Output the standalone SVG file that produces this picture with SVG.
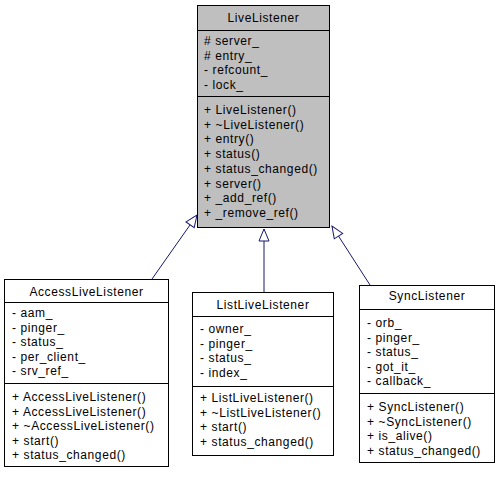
<svg xmlns="http://www.w3.org/2000/svg" width="499" height="477" viewBox="0 0 499 477">
<style>
.box{fill:#ffffff;stroke:#000000;stroke-width:1}
.base{fill:#bfbfbf;stroke:#000000;stroke-width:1}
.sep{stroke:#000000;stroke-width:1}
text{font-family:"Liberation Sans",Arial,Helvetica,sans-serif;font-size:12px;letter-spacing:0.6px;fill:#000000}
.t{text-anchor:middle}
.edge{fill:none;stroke:#191970;stroke-width:1;marker-end:url(#inh)}
</style>
<defs>
<marker id="inh" viewBox="0 0 12 10" refX="12" refY="5" markerWidth="12" markerHeight="10" markerUnits="userSpaceOnUse" orient="auto" overflow="visible">
<path d="M0,0 L12,5 L0,10 Z" fill="#ffffff" stroke="#191970" stroke-width="1"/>
</marker>
</defs>
<g id="connectors">
<path class="edge" d="M152,279 L197,215"/>
<path class="edge" d="M264,292 L264,229"/>
<path class="edge" d="M370,285 L332,226"/>
</g>
<g id="LiveListener">
<rect class="base" x="197.5" y="5.5" width="132" height="222"/>
<line class="sep" x1="197.5" y1="30.5" x2="329.5" y2="30.5"/>
<line class="sep" x1="197.5" y1="96.5" x2="329.5" y2="96.5"/>
<text class="t" x="263.5" y="22">LiveListener</text>
<text x="204" y="45"># server_</text>
<text x="204" y="59.5"># entry_</text>
<text x="204" y="74">- refcount_</text>
<text x="204" y="88.5">- lock_</text>
<text x="204" y="114">+ LiveListener()</text>
<text x="204" y="128.7">+ ~LiveListener()</text>
<text x="204" y="143.4">+ entry()</text>
<text x="204" y="158.1">+ status()</text>
<text x="204" y="172.8">+ status_changed()</text>
<text x="204" y="187.5">+ server()</text>
<text x="204" y="202.2">+ _add_ref()</text>
<text x="204" y="216.9">+ _remove_ref()</text>
</g>
<g id="AccessLiveListener">
<rect class="box" x="4.5" y="279.5" width="164" height="187"/>
<line class="sep" x1="4.5" y1="302.5" x2="168.5" y2="302.5"/>
<line class="sep" x1="4.5" y1="383.5" x2="168.5" y2="383.5"/>
<text class="t" x="86.5" y="296">AccessLiveListener</text>
<text x="12" y="317.3">- aam_</text>
<text x="12" y="331.8">- pinger_</text>
<text x="12" y="346.3">- status_</text>
<text x="12" y="360.8">- per_client_</text>
<text x="12" y="375.3">- srv_ref_</text>
<text x="12" y="401.3">+ AccessLiveListener()</text>
<text x="12" y="415.8">+ AccessLiveListener()</text>
<text x="12" y="430.3">+ ~AccessLiveListener()</text>
<text x="12" y="444.8">+ start()</text>
<text x="12" y="459.3">+ status_changed()</text>
</g>
<g id="ListLiveListener">
<rect class="box" x="192.5" y="292.5" width="141" height="163"/>
<line class="sep" x1="192.5" y1="316.5" x2="333.5" y2="316.5"/>
<line class="sep" x1="192.5" y1="386.5" x2="333.5" y2="386.5"/>
<text class="t" x="263" y="309">ListLiveListener</text>
<text x="200" y="333.3">- owner_</text>
<text x="200" y="347.8">- pinger_</text>
<text x="200" y="362.3">- status_</text>
<text x="200" y="376.8">- index_</text>
<text x="200" y="402.3">+ ListLiveListener()</text>
<text x="200" y="416.8">+ ~ListLiveListener()</text>
<text x="200" y="431.3">+ start()</text>
<text x="200" y="445.8">+ status_changed()</text>
</g>
<g id="SyncListener">
<rect class="box" x="359.5" y="285.5" width="135" height="177"/>
<line class="sep" x1="359.5" y1="309.5" x2="494.5" y2="309.5"/>
<line class="sep" x1="359.5" y1="393.5" x2="494.5" y2="393.5"/>
<text class="t" x="427" y="299.5">SyncListener</text>
<text x="367" y="327.3">- orb_</text>
<text x="367" y="341.8">- pinger_</text>
<text x="367" y="356.3">- status_</text>
<text x="367" y="370.8">- got_it_</text>
<text x="367" y="385.3">- callback_</text>
<text x="367" y="411.3">+ SyncListener()</text>
<text x="367" y="425.8">+ ~SyncListener()</text>
<text x="367" y="440.3">+ is_alive()</text>
<text x="367" y="454.8">+ status_changed()</text>
</g>
</svg>
